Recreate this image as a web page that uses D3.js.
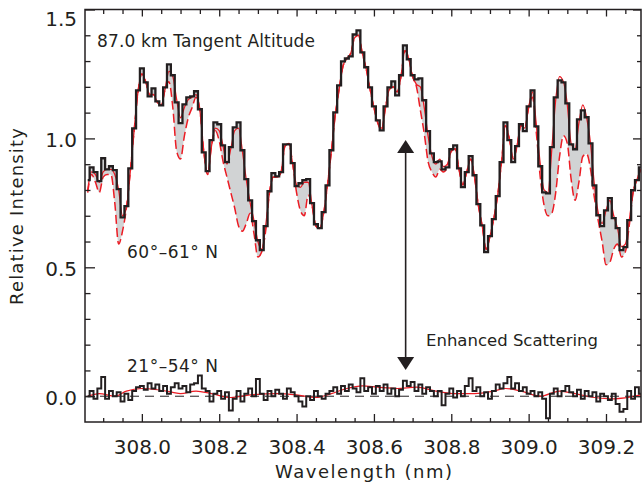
<!DOCTYPE html>
<html><head><meta charset="utf-8">
<script src="https://cdn.jsdelivr.net/npm/d3@7"></script>
<style>
html,body{margin:0;padding:0;background:#fff;overflow:hidden;}
svg{display:block;}
text{font-family:"DejaVu Sans",sans-serif;fill:#231f20;}
</style></head><body>
<svg id="chart" width="642" height="485"></svg>
<script>
// ---- data ----
const wlStart = 307.86, wlStep = 0.01, nSamples = 144;
const wavelengths = d3.range(nSamples).map(i => +(wlStart + i * wlStep).toFixed(2));

// 60-61 N, measured relative intensity (black histogram)
const observed = [
0.838,0.888,0.869,0.834,0.923,0.880,0.892,0.877,0.803,0.694,
0.737,0.884,1.039,1.186,1.272,1.217,1.163,1.194,1.144,1.128,
1.198,1.287,1.245,1.140,1.059,1.132,1.159,1.163,1.183,1.113,
0.946,0.873,0.993,1.062,1.055,0.973,0.908,0.966,1.043,1.062,
0.954,0.842,0.760,0.679,0.605,0.567,0.660,0.795,0.865,0.853,
0.869,0.977,0.977,0.904,0.815,0.826,0.838,0.842,0.749,0.667,
0.652,0.714,0.818,0.954,1.101,1.206,1.299,1.310,1.318,1.403,
1.419,1.334,1.276,1.198,1.124,1.070,1.031,1.124,1.198,1.221,
1.167,1.245,1.361,1.307,1.245,1.229,1.233,1.148,1.028,0.942,
0.908,0.911,0.880,0.888,0.958,0.973,0.884,0.811,0.869,0.931,
0.857,0.745,0.663,0.559,0.621,0.687,0.776,0.908,1.062,0.993,
0.908,0.970,1.055,1.028,1.124,1.186,1.047,0.892,0.791,0.787,
0.966,1.159,1.225,1.217,1.136,0.977,0.958,1.074,1.109,1.082,
0.981,0.818,0.702,0.660,0.721,0.768,0.691,0.652,0.567,0.578,
0.683,0.799,0.838,0.888];

// model with enhanced scattering (red solid)
const modelFit = [
0.80,0.87,0.86,0.83,0.87,0.88,0.88,0.86,0.80,0.70,
0.73,0.87,1.03,1.18,1.25,1.22,1.17,1.17,1.14,1.13,
1.19,1.26,1.24,1.15,1.08,1.12,1.15,1.16,1.17,1.11,
0.95,0.86,0.97,1.04,1.03,0.97,0.90,0.96,1.03,1.04,
0.95,0.84,0.75,0.68,0.60,0.57,0.66,0.79,0.85,0.85,
0.87,0.97,0.98,0.90,0.82,0.81,0.83,0.83,0.74,0.66,
0.65,0.71,0.82,0.95,1.09,1.19,1.28,1.31,1.33,1.39,
1.40,1.33,1.27,1.19,1.12,1.06,1.04,1.12,1.19,1.20,
1.18,1.24,1.34,1.31,1.24,1.21,1.20,1.12,1.01,0.93,
0.90,0.92,0.89,0.90,0.95,0.96,0.88,0.82,0.87,0.92,
0.85,0.74,0.66,0.57,0.62,0.69,0.78,0.91,1.05,1.00,
0.92,0.97,1.05,1.04,1.12,1.18,1.05,0.90,0.80,0.79,
0.96,1.15,1.24,1.22,1.13,0.98,0.96,1.06,1.13,1.08,
0.98,0.82,0.71,0.67,0.72,0.76,0.70,0.65,0.58,0.59,
0.68,0.79,0.84,0.88];

// model without enhanced scattering (red dashed)
const modelNoScatter = [
0.79,0.86,0.83,0.79,0.85,0.86,0.86,0.75,0.59,0.64,
0.73,0.87,1.03,1.18,1.25,1.22,1.17,1.17,1.14,1.13,
1.19,1.22,1.12,0.95,0.92,1.01,1.08,1.12,1.16,1.11,
0.95,0.86,0.97,1.03,0.99,0.91,0.85,0.79,0.73,0.66,
0.64,0.67,0.71,0.63,0.54,0.56,0.64,0.79,0.85,0.85,
0.87,0.97,0.98,0.90,0.79,0.72,0.70,0.78,0.74,0.66,
0.65,0.71,0.82,0.95,1.09,1.19,1.28,1.31,1.33,1.39,
1.40,1.33,1.27,1.19,1.12,1.06,1.03,1.12,1.19,1.20,
1.18,1.24,1.34,1.31,1.24,1.20,1.11,1.02,0.91,0.87,
0.85,0.88,0.87,0.89,0.95,0.96,0.88,0.82,0.87,0.92,
0.85,0.74,0.66,0.57,0.62,0.69,0.78,0.91,1.05,1.00,
0.92,0.97,1.05,1.04,1.12,1.16,1.02,0.85,0.74,0.70,
0.71,0.79,0.93,1.01,0.98,0.84,0.76,0.83,0.93,0.94,
0.88,0.77,0.68,0.60,0.51,0.52,0.57,0.59,0.54,0.56,
0.66,0.79,0.84,0.88];

// 21-54 N residual (black histogram)
const lowObserved = [
0.00,0.02,-0.01,0.03,0.075,-0.01,0.02,0.00,0.015,-0.02,
0.01,-0.015,0.02,0.035,0.04,0.025,0.05,0.03,0.045,0.02,
0.04,0.01,0.035,0.05,0.03,0.04,0.015,0.045,0.05,0.08,
0.03,0.02,-0.02,0.01,0.02,-0.01,0.015,-0.055,-0.01,0.02,
-0.02,0.01,0.03,0.00,0.067,0.01,-0.015,0.02,0.00,0.025,
0.01,-0.01,0.03,0.015,0.00,-0.02,-0.04,0.00,-0.015,0.02,
0.00,-0.01,0.01,0.02,0.035,0.01,0.04,0.02,0.045,0.03,
0.015,0.07,0.02,0.035,0.01,0.04,0.02,0.045,0.01,0.03,
0.00,0.025,0.06,0.04,0.055,0.02,0.045,0.01,0.035,0.02,
0.00,0.02,-0.035,0.01,0.03,-0.005,0.02,0.00,0.04,0.07,
0.02,0.035,0.00,0.015,-0.01,0.02,0.045,0.03,0.05,0.075,
0.03,0.05,0.02,0.035,0.01,0.02,0.00,0.015,-0.01,-0.085,
0.01,0.03,0.00,0.02,0.04,0.015,0.00,0.025,-0.01,0.02,
0.00,0.015,-0.02,0.01,0.00,-0.015,0.01,-0.03,-0.06,-0.05,
0.02,-0.01,0.035,0.01];

// 21-54 N model (red)
const lowModelWl = [307.86,307.89,307.93,307.96,308.00,308.04,308.08,308.10,308.14,308.18,308.23,
  308.28,308.35,308.40,308.45,308.49,308.53,308.57,308.61,308.66,308.71,308.76,308.81,308.86,
  308.91,308.94,308.98,309.03,309.08,309.12,309.17,309.22,309.29];
const lowModel = [0.00,0.01,0.00,0.02,0.03,0.025,0.015,0.01,0.02,0.01,-0.005,
  0.005,0.01,0.005,-0.005,0.01,0.03,0.04,0.035,0.03,0.035,0.02,0.01,0.01,
  0.02,0.03,0.02,0.00,0.02,0.01,-0.005,-0.01,0.005];

const xMajorTicks = [308.0, 308.2, 308.4, 308.6, 308.8, 309.0, 309.2];
const xMinorTicks = [307.9,307.95,308.05,308.1,308.15,308.25,308.3,308.35,308.45,308.5,308.55,
  308.65,308.7,308.75,308.85,308.9,308.95,309.05,309.1,309.15,309.25];
const yMajorTicks = [0.0, 0.5, 1.0, 1.5];
const yMinorTicks = [0.1,0.2,0.3,0.4,0.6,0.7,0.8,0.9,1.1,1.2,1.3,1.4];

const arrowWl = 308.682, arrowTop = 0.994, arrowBottom = 0.102;

// ---- layout ----
const L = 85, R = 641, T = 9.5, B = 422;
const x = d3.scaleLinear().domain([307.853, 309.2905]).range([L, R]);
const y = d3.scaleLinear().domain([-0.1, 1.5]).range([B, T]);

const INK = "#231f20", RED = "#ec1c24", GRAY = "#d1d3d4";
const svg = d3.select("#chart");

svg.append("defs").append("clipPath").attr("id", "clip")
  .append("rect").attr("x", L).attr("y", T).attr("width", R - L).attr("height", B - T);
const plot = svg.append("g").attr("clip-path", "url(#clip)");

const ptsObs = wavelengths.map((w, i) => [x(w), y(observed[i])]);
const ptsFit = wavelengths.map((w, i) => [x(w), y(modelFit[i])]);
const ptsNo = wavelengths.map((w, i) => [x(w), y(modelNoScatter[i])]);

// gray shading between measured spectrum and the no-scattering model
const upper = d3.line().curve(d3.curveStep)(ptsObs);
const lower = d3.line().curve(d3.curveMonotoneX)(ptsNo.slice().reverse());
plot.append("path").attr("d", upper + "L" + lower.slice(1) + "Z")
  .attr("fill", GRAY).attr("stroke", "none");

plot.append("path").attr("d", d3.line().curve(d3.curveMonotoneX)(ptsNo))
  .attr("fill", "none").attr("stroke", RED).attr("stroke-width", 1.5)
  .attr("stroke-dasharray", "9,4");
plot.append("path").attr("d", d3.line().curve(d3.curveMonotoneX)(ptsFit))
  .attr("fill", "none").attr("stroke", RED).attr("stroke-width", 1.3);
plot.append("path").attr("d", upper)
  .attr("fill", "none").attr("stroke", INK).attr("stroke-width", 2.3)
  .attr("stroke-linejoin", "miter");

// lower spectrum
plot.append("line").attr("x1", L).attr("x2", R).attr("y1", y(0)).attr("y2", y(0))
  .attr("stroke", INK).attr("stroke-width", 1).attr("stroke-dasharray", "9,6");
plot.append("path")
  .attr("d", d3.line().curve(d3.curveMonotoneX)(lowModelWl.map((w, i) => [x(w), y(lowModel[i])])))
  .attr("fill", "none").attr("stroke", RED).attr("stroke-width", 1.2);
plot.append("path")
  .attr("d", d3.line().curve(d3.curveStep)(wavelengths.map((w, i) => [x(w), y(lowObserved[i])])))
  .attr("fill", "none").attr("stroke", INK).attr("stroke-width", 2);

// ---- axes ----
function styleAxis(g) {
  g.select(".domain").remove();
  g.selectAll(".tick line").attr("stroke", INK).attr("stroke-width", 1.3);
}
const fs = 20;
// bottom
svg.append("g").attr("transform", `translate(0,${B})`)
  .call(d3.axisBottom(x).tickValues(xMinorTicks).tickSize(-4).tickFormat(""))
  .call(styleAxis).selectAll("text").remove();
const gB = svg.append("g").attr("transform", `translate(0,${B})`)
  .call(d3.axisBottom(x).tickValues(xMajorTicks).tickSize(-8).tickFormat(d3.format(".1f")))
  .call(styleAxis);
gB.selectAll("text").attr("y", 32).attr("dy", null)
  .attr("font-size", fs).attr("font-family", "DejaVu Sans").attr("fill", INK);
// top
svg.append("g").attr("transform", `translate(0,${T})`)
  .call(d3.axisTop(x).tickValues(xMinorTicks).tickSize(-4.5).tickFormat(""))
  .call(styleAxis).selectAll("text").remove();
svg.append("g").attr("transform", `translate(0,${T})`)
  .call(d3.axisTop(x).tickValues(xMajorTicks).tickSize(-7).tickFormat(""))
  .call(styleAxis).selectAll("text").remove();
// left
svg.append("g").attr("transform", `translate(${L},0)`)
  .call(d3.axisLeft(y).tickValues(yMinorTicks).tickSize(-5.5).tickFormat(""))
  .call(styleAxis).selectAll("text").remove();
const gL = svg.append("g").attr("transform", `translate(${L},0)`)
  .call(d3.axisLeft(y).tickValues(yMajorTicks).tickSize(-10).tickFormat(d3.format(".1f")))
  .call(styleAxis);
gL.selectAll("text").attr("x", -8)
  .attr("dy", d => d === 1.5 ? "0.78em" : "0.42em")
  .attr("font-size", fs).attr("font-family", "DejaVu Sans").attr("fill", INK);
// right
svg.append("g").attr("transform", `translate(${R},0)`)
  .call(d3.axisRight(y).tickValues(yMinorTicks).tickSize(-4).tickFormat(""))
  .call(styleAxis).selectAll("text").remove();
svg.append("g").attr("transform", `translate(${R},0)`)
  .call(d3.axisRight(y).tickValues(yMajorTicks).tickSize(-8).tickFormat(""))
  .call(styleAxis).selectAll("text").remove();

// frame
svg.append("rect").attr("x", L).attr("y", T).attr("width", R - L).attr("height", B - T)
  .attr("fill", "none").attr("stroke", INK).attr("stroke-width", 1.5);

// ---- axis titles ----
svg.append("text").attr("x", 275).attr("y", 478).attr("font-size", 18)
  .attr("textLength", 177).attr("lengthAdjust", "spacing").text("Wavelength (nm)");
svg.append("text").attr("transform", "translate(23,305) rotate(-90)").attr("font-size", 18)
  .attr("textLength", 177).attr("lengthAdjust", "spacing").text("Relative Intensity");

// ---- annotations ----
svg.append("text").attr("x", 97).attr("y", 47).attr("font-size", 17)
  .attr("textLength", 218).attr("lengthAdjust", "spacing").text("87.0 km Tangent Altitude");
svg.append("text").attr("x", 127).attr("y", 258).attr("font-size", 17)
  .attr("textLength", 91).attr("lengthAdjust", "spacing").text("60°–61° N");
svg.append("text").attr("x", 127).attr("y", 372).attr("font-size", 17)
  .attr("textLength", 91).attr("lengthAdjust", "spacing").text("21°–54° N");
svg.append("text").attr("x", 426).attr("y", 346).attr("font-size", 16.5)
  .attr("textLength", 172).attr("lengthAdjust", "spacing").text("Enhanced Scattering");

// double arrow
const ax = x(arrowWl), aTop = y(arrowTop), aBot = y(arrowBottom), hl = 13, hw = 8.5;
svg.append("line").attr("x1", ax).attr("x2", ax).attr("y1", aTop + hl - 1).attr("y2", aBot - hl + 1)
  .attr("stroke", INK).attr("stroke-width", 1.6);
svg.append("path").attr("d", `M${ax},${aTop}L${ax - hw},${aTop + hl}L${ax + hw},${aTop + hl}Z`).attr("fill", INK);
svg.append("path").attr("d", `M${ax},${aBot}L${ax - hw},${aBot - hl}L${ax + hw},${aBot - hl}Z`).attr("fill", INK);
</script>
</body></html>
